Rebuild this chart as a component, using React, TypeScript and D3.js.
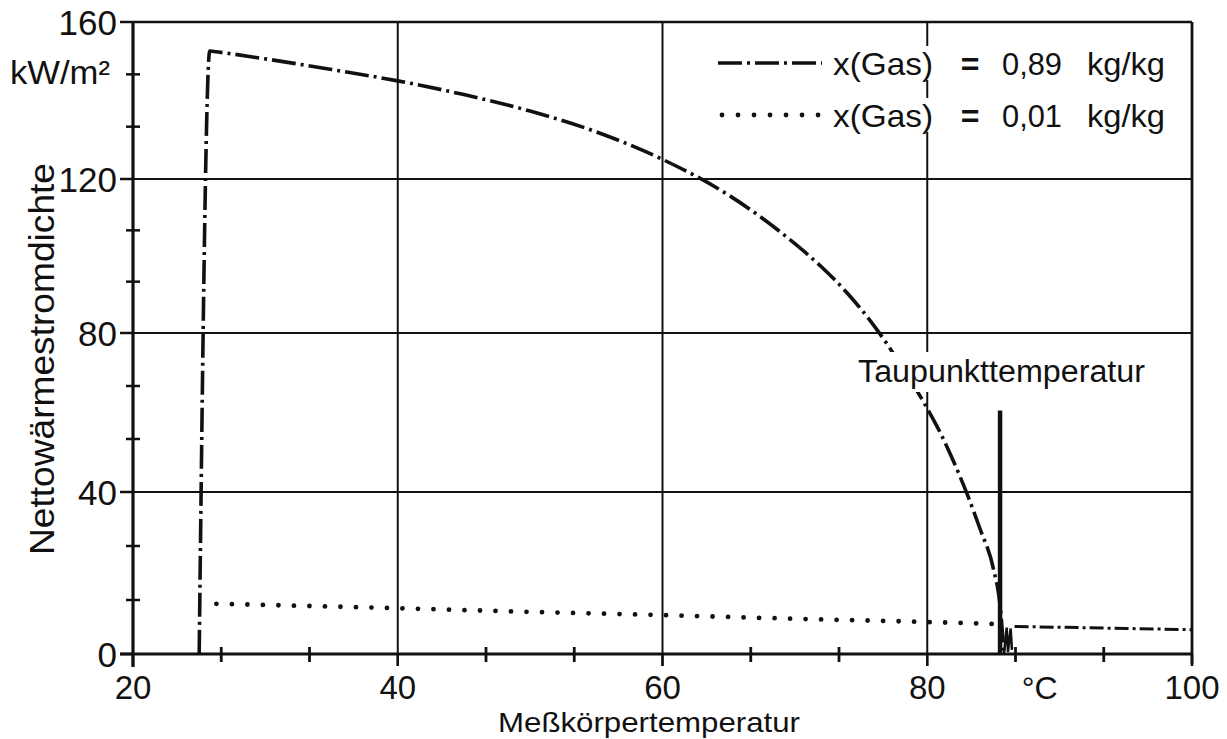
import React from "react";
import * as d3 from "d3";

// ---- data ----
const xMajorTicks = [20, 40, 60, 80, 100];
const yMajorTicks = [0, 40, 80, 120, 160];
const xGridValues = [40, 60, 80];
const yGridValues = [40, 80, 120];

// x(Gas) = 0,89 kg/kg  (temperature °C, heat flux kW/m²)
const gas089: [number, number][] = [
  [25, 0], [25.8, 152.6], [26.3, 152.4], [30, 150.6], [35, 147.9], [40, 145.0],
  [45, 141.5], [50, 137.3], [55, 132.0], [60, 125.0], [65, 115.8], [70, 103.2],
  [72, 97.2], [74, 90.2], [76, 81.8], [78, 72.0], [80, 61.0], [81, 54.8], [82, 47.6],
  [83, 39.6], [84, 30.8], [85, 21], [85.5, 12], [85.8, 0],
];
// x(Gas) = 0,89 kg/kg above the dew point
const gas089Above: [number, number][] = [[86.6, 6.8], [90, 6.6], [95, 6.3], [100, 6.0]];
// scribble at the dew point
const scribble: [number, number][] = [[85.8, 0], [86.0, 6.5], [86.1, 0.5], [86.3, 6.3], [86.4, 1]];
// x(Gas) = 0,01 kg/kg
const gas001: [number, number][] = [
  [26.3, 12.4], [40, 11.3], [50, 10.4], [60, 9.6], [70, 8.7], [80, 7.9], [85.2, 7.4],
];
const dewPointT = 85.5;
const dewPointTop = 60.5;

const legendRows = [
  { value: "0,89", unit: "kg/kg", style: "dashdot" },
  { value: "0,01", unit: "kg/kg", style: "dotted" },
];

const FONT = "'Liberation Sans', Arial, Helvetica, sans-serif";
const INK = "#111";

export default function App() {
  const W = 1227, H = 739;
  const x = d3.scaleLinear().domain([20, 100]).range([133, 1192]);
  // scanned figure: slightly non-uniform vertical scale
  const y = d3.scaleLinear().domain(yMajorTicks).range([654, 492, 333, 179, 22]);

  const smooth = d3.line<[number, number]>().x(d => x(d[0])).y(d => y(d[1])).curve(d3.curveMonotoneX);
  const straight = d3.line<[number, number]>().x(d => x(d[0])).y(d => y(d[1]));

  const xMinor: number[] = [];
  for (let i = 0; i < xMajorTicks.length - 1; i++) {
    const a = xMajorTicks[i], b = xMajorTicks[i + 1];
    xMinor.push(a + (b - a) / 3, a + (2 * (b - a)) / 3);
  }
  const yMinor: number[] = [];
  for (let i = 0; i < yMajorTicks.length - 1; i++) {
    const a = yMajorTicks[i], b = yMajorTicks[i + 1];
    yMinor.push(a + (b - a) / 3, a + (2 * (b - a)) / 3);
  }

  const x0 = x(20), x1 = x(100), y0 = y(0), y1 = y(160);
  const dashDot = "24 5 3 5";

  return (
    <svg width={W} height={H} style={{ position: "absolute", left: 0, top: 0, background: "#fff" }}
      fontFamily={FONT}>
      <rect x={0} y={0} width={W} height={H} fill="#fff" />
      {/* grid */}
      {xGridValues.map(v => (
        <line key={"gx" + v} x1={x(v)} x2={x(v)} y1={y1} y2={y0 + 12} stroke={INK} strokeWidth={2} />
      ))}
      {yGridValues.map(v => (
        <line key={"gy" + v} x1={x0} x2={x1} y1={y(v)} y2={y(v)} stroke={INK} strokeWidth={1.8} />
      ))}
      {/* frame */}
      <line x1={x0} x2={x1} y1={y1} y2={y1} stroke={INK} strokeWidth={2.5} />
      <line x1={x1} x2={x1} y1={y1} y2={y0 + 10} stroke={INK} strokeWidth={2.8} />
      <line x1={x0} x2={x0} y1={y1} y2={y0 + 13} stroke={INK} strokeWidth={3.2} />
      <line x1={x0 - 13} x2={x1} y1={y0} y2={y0} stroke={INK} strokeWidth={3.2} />
      {/* ticks */}
      {yMajorTicks.map(v => (
        <line key={"ty" + v} x1={x0 - 13} x2={x0} y1={y(v)} y2={y(v)} stroke={INK} strokeWidth={2.5} />
      ))}
      {yMinor.map(v => (
        <line key={"tym" + v} x1={x0 - 7} x2={x0 + 7} y1={y(v)} y2={y(v)} stroke={INK} strokeWidth={2.5} />
      ))}
      {xMinor.map(v => (
        <line key={"txm" + v} x1={x(v)} x2={x(v)} y1={y0 - 7} y2={y0 + 8} stroke={INK} strokeWidth={2.8} />
      ))}
      {xMajorTicks.map(v => (
        <line key={"tx" + v} x1={x(v)} x2={x(v)} y1={y0} y2={y0 + 12} stroke={INK} strokeWidth={2.5} />
      ))}
      {/* tick labels */}
      {yMajorTicks.map(v => (
        <text key={"ly" + v} x={x0 - 16} y={y(v)} dy="0.36em" textAnchor="end" fontSize={35} fill={INK}>
          {v}
        </text>
      ))}
      {xMajorTicks.map(v => (
        <text key={"lx" + v} x={x(v)} y={699} textAnchor="middle" fontSize={33} fill={INK}>
          {v}
        </text>
      ))}
      <text x={x(88.5)} y={699} textAnchor="middle" fontSize={32} fill={INK}>°C</text>
      {/* axis titles */}
      <text x={10} y={84} fontSize={33} fill={INK} textLength={100} lengthAdjust="spacingAndGlyphs">kW/m²</text>
      <text transform="translate(54,359) rotate(-90)" textAnchor="middle" fontSize={35} fill={INK}
        textLength={392} lengthAdjust="spacingAndGlyphs">Nettowärmestromdichte</text>
      <text x={649} y={732} textAnchor="middle" fontSize={28} fill={INK}
        textLength={302} lengthAdjust="spacingAndGlyphs">Meßkörpertemperatur</text>

      {/* series */}
      <path d={smooth(gas001) ?? ""} fill="none" stroke={INK} strokeWidth={4.8}
        strokeLinecap="round" strokeDasharray="0.01 15.5" />
      <path d={smooth(gas089) ?? ""} fill="none" stroke={INK} strokeWidth={3.6}
        strokeDasharray={dashDot} />
      <path d={straight(gas089Above) ?? ""} fill="none" stroke={INK} strokeWidth={3}
        strokeDasharray="14 4 3 4" />
      <path d={straight(scribble) ?? ""} fill="none" stroke={INK} strokeWidth={2.5} />
      {/* dew point */}
      <line x1={x(dewPointT)} x2={x(dewPointT)} y1={y(dewPointTop)} y2={y0} stroke={INK} strokeWidth={4.5} />
      <rect x={852} y={352} width={296} height={40} fill="#fff" />
      <text x={858} y={382} fontSize={31} fill={INK} textLength={287} lengthAdjust="spacingAndGlyphs">
        Taupunkttemperatur
      </text>

      {/* legend */}
      {legendRows.map((r, i) => {
        const cy = 63 + i * 52;
        const base = cy + 12;
        return (
          <g key={"lg" + i}>
            <rect x={828} y={cy - 17} width={340} height={34} fill="#fff" />
            {r.style === "dashdot" ? (
              <line x1={718} x2={822} y1={cy} y2={cy} stroke={INK} strokeWidth={3.6} strokeDasharray={dashDot} />
            ) : (
              <line x1={722} x2={822} y1={cy} y2={cy} stroke={INK} strokeWidth={4.8}
                strokeLinecap="round" strokeDasharray="0.01 16" />
            )}
            <text x={833} y={base} fontSize={32} fill={INK} textLength={100} lengthAdjust="spacingAndGlyphs">x(Gas)</text>
            <text x={970} y={base} textAnchor="middle" fontSize={32} fontWeight="bold" fill={INK}>=</text>
            <text x={1002} y={base} fontSize={32} fill={INK} textLength={60} lengthAdjust="spacingAndGlyphs">{r.value}</text>
            <text x={1087} y={base} fontSize={32} fill={INK} textLength={78} lengthAdjust="spacingAndGlyphs">{r.unit}</text>
          </g>
        );
      })}
    </svg>
  );
}
